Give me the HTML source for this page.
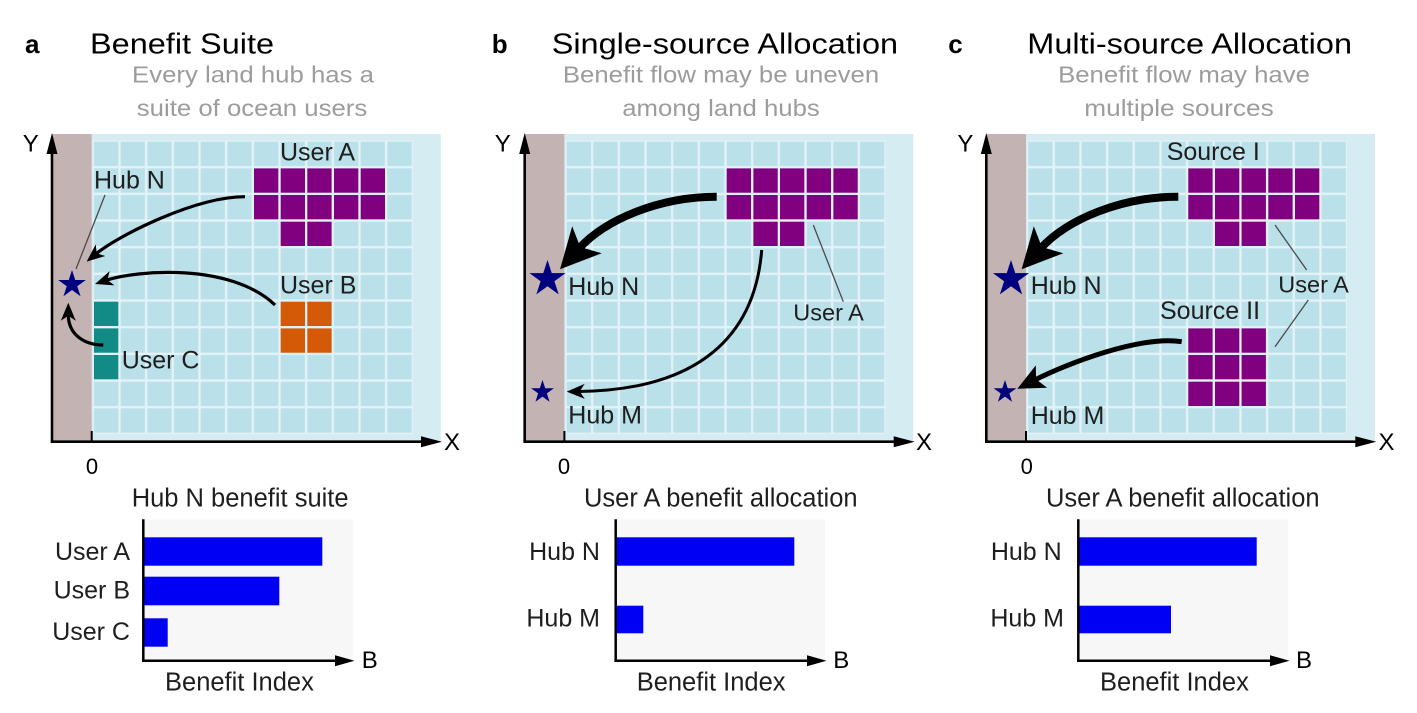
<!DOCTYPE html>
<html>
<head>
<meta charset="utf-8">
<style>
html,body{margin:0;padding:0;background:#fff;}
svg{display:block;}
text{font-family:"Liberation Sans",Arial,sans-serif;}
</style>
</head>
<body>
<svg width="1417" height="713" viewBox="0 0 1417 713" xmlns="http://www.w3.org/2000/svg">
<defs>
  <pattern id="grid" patternUnits="userSpaceOnUse" x="92.8" y="140.5" width="26.667" height="26.667">
    <rect x="0" y="0" width="26.667" height="26.667" fill="#e3f3f7"/>
    <rect x="1.2" y="1.2" width="24.3" height="24.3" fill="#bae0ea"/>
  </pattern>
  <marker id="hs" markerUnits="userSpaceOnUse" markerWidth="18" markerHeight="15" refX="6" refY="7.5" orient="auto" overflow="visible">
    <path d="M0,0 L18,7.5 L0,15 L5,7.5 Z" fill="#000"/>
  </marker>
  <marker id="hm" markerUnits="userSpaceOnUse" markerWidth="27" markerHeight="25" refX="8" refY="12.5" orient="auto" overflow="visible">
    <path d="M0,0 L27,12.5 L0,25 L6,12.5 Z" fill="#000"/>
  </marker>
  <marker id="hl" markerUnits="userSpaceOnUse" markerWidth="40" markerHeight="40" refX="12" refY="20" orient="auto" overflow="visible">
    <path d="M0,0 L40,20 L0,40 L10,20 Z" fill="#000"/>
  </marker>
</defs>

<rect width="1417" height="713" fill="#fff"/>

<!-- ===== Titles ===== -->
<g fill="#000">
  <text x="25" y="53" font-size="26" font-weight="bold">a</text>
  <text transform="translate(90,53.3) scale(1.12,1)" font-size="29">Benefit Suite</text>
  <text x="491.7" y="53" font-size="26" font-weight="bold">b</text>
  <text transform="translate(551.7,53.3) scale(1.12,1)" font-size="29">Single-source Allocation</text>
  <text x="948.3" y="53" font-size="26" font-weight="bold">c</text>
  <text transform="translate(1027.3,53.3) scale(1.12,1)" font-size="29">Multi-source Allocation</text>
</g>
<g fill="#9c9c9c" font-size="23" text-anchor="middle">
  <text transform="translate(253,82.7) scale(1.12,1)">Every land hub has a</text>
  <text transform="translate(252,116) scale(1.12,1)">suite of ocean users</text>
  <text transform="translate(721,82.7) scale(1.12,1)">Benefit flow may be uneven</text>
  <text transform="translate(721,116) scale(1.12,1)">among land hubs</text>
  <text transform="translate(1184,82.7) scale(1.12,1)">Benefit flow may have</text>
  <text transform="translate(1179,116) scale(1.14,1)">multiple sources</text>
</g>

<!-- ===== Map bases ===== -->
<g>
  <rect x="91.7" y="134" width="349" height="307.7" fill="#d4ecf2"/>
  <rect x="52" y="134" width="39.7" height="307.7" fill="#c4b3b3"/>
  <rect x="92.8" y="140.5" width="320" height="293.3" fill="url(#grid)"/>
  <line x1="52" y1="441.7" x2="52" y2="150" stroke="#000" stroke-width="2.6"/>
  <polygon points="52,133 46.5,154 57.5,154" fill="#000"/>
  <line x1="50.7" y1="441.7" x2="424" y2="441.7" stroke="#000" stroke-width="2.6"/>
  <polygon points="442,441.7 421,436.2 421,447.2" fill="#000"/>
  <line x1="91.7" y1="431" x2="91.7" y2="441.7" stroke="#000" stroke-width="2"/>
</g>
<g transform="translate(472.7,0)">
  <rect x="91.7" y="134" width="349" height="307.7" fill="#d4ecf2"/>
  <rect x="52" y="134" width="39.7" height="307.7" fill="#c4b3b3"/>
  <rect x="92.8" y="140.5" width="320" height="293.3" fill="url(#grid)"/>
  <line x1="52" y1="441.7" x2="52" y2="150" stroke="#000" stroke-width="2.6"/>
  <polygon points="52,133 46.5,154 57.5,154" fill="#000"/>
  <line x1="50.7" y1="441.7" x2="424" y2="441.7" stroke="#000" stroke-width="2.6"/>
  <polygon points="442,441.7 421,436.2 421,447.2" fill="#000"/>
  <line x1="91.7" y1="431" x2="91.7" y2="441.7" stroke="#000" stroke-width="2"/>
</g>
<g transform="translate(934.3,0)">
  <rect x="91.7" y="134" width="349" height="307.7" fill="#d4ecf2"/>
  <rect x="52" y="134" width="39.7" height="307.7" fill="#c4b3b3"/>
  <rect x="92.8" y="140.5" width="320" height="293.3" fill="url(#grid)"/>
  <line x1="52" y1="441.7" x2="52" y2="150" stroke="#000" stroke-width="2.6"/>
  <polygon points="52,133 46.5,154 57.5,154" fill="#000"/>
  <line x1="50.7" y1="441.7" x2="424" y2="441.7" stroke="#000" stroke-width="2.6"/>
  <polygon points="442,441.7 421,436.2 421,447.2" fill="#000"/>
  <line x1="91.7" y1="431" x2="91.7" y2="441.7" stroke="#000" stroke-width="2"/>
</g>

<!-- ===== Colored cells ===== -->
<g fill="#800080">
  <rect x="254" y="168.4" width="24.3" height="24.3"/>
  <rect x="280.7" y="168.4" width="24.3" height="24.3"/>
  <rect x="307.3" y="168.4" width="24.3" height="24.3"/>
  <rect x="334" y="168.4" width="24.3" height="24.3"/>
  <rect x="360.7" y="168.4" width="24.3" height="24.3"/>
  <rect x="254" y="195" width="24.3" height="24.3"/>
  <rect x="280.7" y="195" width="24.3" height="24.3"/>
  <rect x="307.3" y="195" width="24.3" height="24.3"/>
  <rect x="334" y="195" width="24.3" height="24.3"/>
  <rect x="360.7" y="195" width="24.3" height="24.3"/>
  <rect x="280.7" y="221.7" width="24.3" height="24.3"/>
  <rect x="307.3" y="221.7" width="24.3" height="24.3"/>
</g>
<g fill="#d55a08">
  <rect x="280.7" y="301.7" width="24.3" height="24.3"/>
  <rect x="307.3" y="301.7" width="24.3" height="24.3"/>
  <rect x="280.7" y="328.4" width="24.3" height="24.3"/>
  <rect x="307.3" y="328.4" width="24.3" height="24.3"/>
</g>
<g fill="#128a85">
  <rect x="94" y="301.7" width="24.3" height="24.3"/>
  <rect x="94" y="328.4" width="24.3" height="24.3"/>
  <rect x="94" y="355" width="24.3" height="24.3"/>
</g>
<g fill="#800080" transform="translate(472.7,0)">
  <rect x="254" y="168.4" width="24.3" height="24.3"/>
  <rect x="280.7" y="168.4" width="24.3" height="24.3"/>
  <rect x="307.3" y="168.4" width="24.3" height="24.3"/>
  <rect x="334" y="168.4" width="24.3" height="24.3"/>
  <rect x="360.7" y="168.4" width="24.3" height="24.3"/>
  <rect x="254" y="195" width="24.3" height="24.3"/>
  <rect x="280.7" y="195" width="24.3" height="24.3"/>
  <rect x="307.3" y="195" width="24.3" height="24.3"/>
  <rect x="334" y="195" width="24.3" height="24.3"/>
  <rect x="360.7" y="195" width="24.3" height="24.3"/>
  <rect x="280.7" y="221.7" width="24.3" height="24.3"/>
  <rect x="307.3" y="221.7" width="24.3" height="24.3"/>
</g>
<g fill="#800080" transform="translate(934.3,0)">
  <rect x="254" y="168.4" width="24.3" height="24.3"/>
  <rect x="280.7" y="168.4" width="24.3" height="24.3"/>
  <rect x="307.3" y="168.4" width="24.3" height="24.3"/>
  <rect x="334" y="168.4" width="24.3" height="24.3"/>
  <rect x="360.7" y="168.4" width="24.3" height="24.3"/>
  <rect x="254" y="195" width="24.3" height="24.3"/>
  <rect x="280.7" y="195" width="24.3" height="24.3"/>
  <rect x="307.3" y="195" width="24.3" height="24.3"/>
  <rect x="334" y="195" width="24.3" height="24.3"/>
  <rect x="360.7" y="195" width="24.3" height="24.3"/>
  <rect x="280.7" y="221.7" width="24.3" height="24.3"/>
  <rect x="307.3" y="221.7" width="24.3" height="24.3"/>

  <rect x="254" y="328.4" width="24.3" height="24.3"/>
  <rect x="280.7" y="328.4" width="24.3" height="24.3"/>
  <rect x="307.3" y="328.4" width="24.3" height="24.3"/>
  <rect x="254" y="355" width="24.3" height="24.3"/>
  <rect x="280.7" y="355" width="24.3" height="24.3"/>
  <rect x="307.3" y="355" width="24.3" height="24.3"/>
  <rect x="254" y="381.7" width="24.3" height="24.3"/>
  <rect x="280.7" y="381.7" width="24.3" height="24.3"/>
  <rect x="307.3" y="381.7" width="24.3" height="24.3"/>
</g>

<!-- ===== Leader lines ===== -->
<g stroke="#4a4a4a" stroke-width="1.3" fill="none">
  <line x1="105" y1="195" x2="76" y2="269"/>
  <line x1="813.3" y1="225" x2="843.3" y2="301.7"/>
  <line x1="1275" y1="225" x2="1306.7" y2="270"/>
  <line x1="1308.3" y1="300" x2="1275" y2="346.7"/>
</g>

<!-- ===== Arrows ===== -->
<g fill="none" stroke="#000" stroke-linecap="butt">
  <path d="M245,196.7 C195,196.7 117.5,236.1 95.9,254" stroke-width="3.2" marker-end="url(#hs)"/>
  <path d="M275,305 C230,262 134.9,270.6 106.4,280.2" stroke-width="3.2" marker-end="url(#hs)"/>
  <path d="M103.3,345 C85,345 68.3,335 68.3,314.7" stroke-width="3.2" marker-end="url(#hs)"/>
  <path d="M716.7,196.7 C660,196.7 605.9,219 578.9,248.6" stroke-width="8" marker-end="url(#hl)"/>
  <path d="M761.7,250 C755,335 700,390 578.7,391.5" stroke-width="3" marker-end="url(#hs)"/>
  <path d="M1178.3,196.7 C1121.6,196.7 1067.5,219 1040.5,248.6" stroke-width="8" marker-end="url(#hl)"/>
  <path d="M1181.7,341.7 C1140,335 1065.5,364.4 1034.3,380.2" stroke-width="5" marker-end="url(#hm)"/>
</g>

<!-- ===== Stars ===== -->
<g fill="#00007f">
  <polygon transform="translate(72,284.5) scale(14.5)" points="0,-1 0.2245,-0.309 0.9511,-0.309 0.3633,0.118 0.5878,0.809 0,0.382 -0.5878,0.809 -0.3633,0.118 -0.9511,-0.309 -0.2245,-0.309"/>
  <polygon transform="translate(547.5,279) scale(19)" points="0,-1 0.2245,-0.309 0.9511,-0.309 0.3633,0.118 0.5878,0.809 0,0.382 -0.5878,0.809 -0.3633,0.118 -0.9511,-0.309 -0.2245,-0.309"/>
  <polygon transform="translate(542.5,392) scale(12)" points="0,-1 0.2245,-0.309 0.9511,-0.309 0.3633,0.118 0.5878,0.809 0,0.382 -0.5878,0.809 -0.3633,0.118 -0.9511,-0.309 -0.2245,-0.309"/>
  <polygon transform="translate(1011,279) scale(19)" points="0,-1 0.2245,-0.309 0.9511,-0.309 0.3633,0.118 0.5878,0.809 0,0.382 -0.5878,0.809 -0.3633,0.118 -0.9511,-0.309 -0.2245,-0.309"/>
  <polygon transform="translate(1005,392) scale(12)" points="0,-1 0.2245,-0.309 0.9511,-0.309 0.3633,0.118 0.5878,0.809 0,0.382 -0.5878,0.809 -0.3633,0.118 -0.9511,-0.309 -0.2245,-0.309"/>
</g>

<!-- ===== Map labels ===== -->
<g fill="#1e1e1e" font-size="25">
  <text x="280" y="160.7">User A</text>
  <text x="94" y="188.3">Hub N</text>
  <text x="280" y="293.3">User B</text>
  <text x="121.7" y="368.3">User C</text>

  <text x="568.3" y="295">Hub N</text>
  <text x="568.3" y="423.3">Hub M</text>
  <text x="793.3" y="320.7" font-size="23.5">User A</text>

  <text x="1166.7" y="160">Source I</text>
  <text x="1030.7" y="294">Hub N</text>
  <text x="1278.3" y="292.3" font-size="23.5">User A</text>
  <text x="1160" y="319">Source II</text>
  <text x="1030.7" y="424">Hub M</text>
</g>

<!-- ===== Axis labels ===== -->
<g fill="#000" font-size="24">
  <text x="22.7" y="151.7">Y</text>
  <text x="494.7" y="151.7">Y</text>
  <text x="957.4" y="151.7">Y</text>
  <text x="444" y="450">X</text>
  <text x="916" y="450">X</text>
  <text x="1378.5" y="450">X</text>
</g>
<g fill="#000" font-size="22" text-anchor="middle">
  <text x="92" y="474">0</text>
  <text x="564" y="474">0</text>
  <text x="1026.7" y="474">0</text>
</g>

<!-- ===== Bar chart a ===== -->
<rect x="143.3" y="519.3" width="210" height="141.4" fill="#f7f7f7"/>
<g fill="#0000f2">
  <rect x="143.3" y="537.3" width="179" height="28.4"/>
  <rect x="143.3" y="576.7" width="136" height="28.6"/>
  <rect x="143.3" y="618.3" width="24.4" height="28.4"/>
</g>
<line x1="143.3" y1="519.3" x2="143.3" y2="660.7" stroke="#000" stroke-width="2.5"/>
<line x1="142" y1="660.7" x2="338" y2="660.7" stroke="#000" stroke-width="2.5"/>
<polygon points="354.5,660.7 335,655.2 335,666.2" fill="#000"/>

<!-- ===== Bar chart b ===== -->
<rect x="615.7" y="519.3" width="209.3" height="141.4" fill="#f7f7f7"/>
<g fill="#0000f2">
  <rect x="615.7" y="537.3" width="178.6" height="28.4"/>
  <rect x="615.7" y="605.7" width="27.6" height="27.6"/>
</g>
<line x1="615.7" y1="519.3" x2="615.7" y2="660.7" stroke="#000" stroke-width="2.5"/>
<line x1="614.4" y1="660.7" x2="810" y2="660.7" stroke="#000" stroke-width="2.5"/>
<polygon points="826.5,660.7 807,655.2 807,666.2" fill="#000"/>

<!-- ===== Bar chart c ===== -->
<rect x="1078.3" y="519.3" width="210" height="141.4" fill="#f7f7f7"/>
<g fill="#0000f2">
  <rect x="1078.3" y="537.3" width="178.4" height="28.4"/>
  <rect x="1078.3" y="605.7" width="92.7" height="27.6"/>
</g>
<line x1="1078.3" y1="519.3" x2="1078.3" y2="660.7" stroke="#000" stroke-width="2.5"/>
<line x1="1077" y1="660.7" x2="1273" y2="660.7" stroke="#000" stroke-width="2.5"/>
<polygon points="1289.5,660.7 1270,655.2 1270,666.2" fill="#000"/>

<!-- ===== Bar chart labels ===== -->
<g fill="#1e1e1e" font-size="25.5">
  <text x="131.7" y="506.7">Hub N benefit suite</text>
  <text x="584" y="506.7">User A benefit allocation</text>
  <text x="1046" y="506.7">User A benefit allocation</text>

  <text x="165" y="690.7">Benefit Index</text>
  <text x="636.7" y="690.7">Benefit Index</text>
  <text x="1100" y="690.7">Benefit Index</text>
</g>
<g fill="#1e1e1e" font-size="25" text-anchor="end">
  <text x="130" y="560">User A</text>
  <text x="130" y="598.3">User B</text>
  <text x="130" y="640">User C</text>
  <text x="600" y="560">Hub N</text>
  <text x="600" y="626.7">Hub M</text>
  <text x="1061.7" y="560">Hub N</text>
  <text x="1064" y="626.7">Hub M</text>
</g>
<g fill="#000" font-size="24">
  <text x="361.7" y="668">B</text>
  <text x="833.3" y="668">B</text>
  <text x="1296" y="668">B</text>
</g>
</svg>
</body>
</html>
